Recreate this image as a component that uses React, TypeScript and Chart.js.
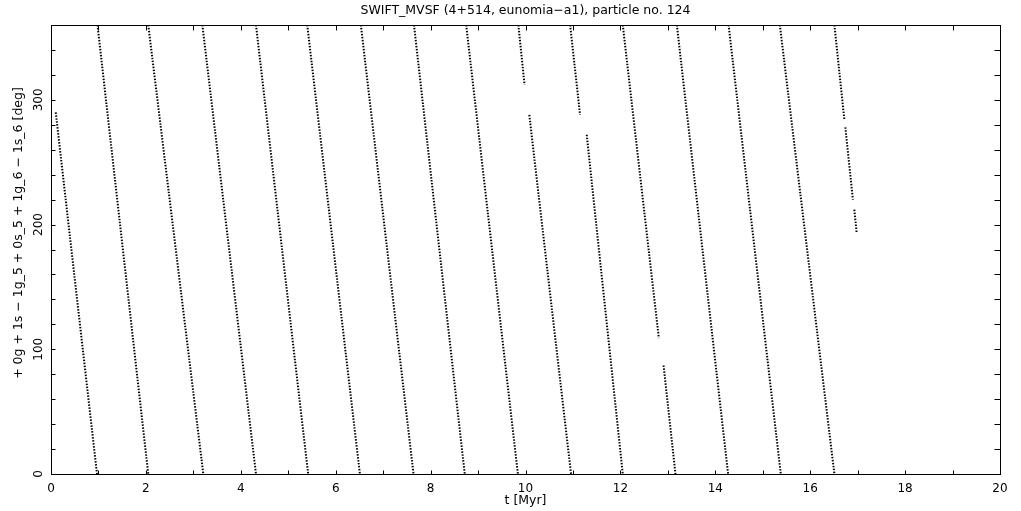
import React, { useEffect, useRef } from "react";
import { Chart, registerables } from "chart.js";

Chart.register(...registerables);

const FONT = "'DejaVu Sans', sans-serif";

const titleText = "SWIFT_MVSF (4+514, eunomia\u2212a1), particle no. 124";
const xTitleText = "t [Myr]";
const yTitleText = "+ 0g + 1s \u2212 1g_5 + 0s_5 + 1g_6 \u2212 1s_6 [deg]";

// Tick values
const xTickValues = [0, 2, 4, 6, 8, 10, 12, 14, 16, 18, 20];
const yTickValues = [0, 100, 200, 300];
const xMinorTicks = [1, 2, 3, 4, 5, 6, 7, 8, 9, 10, 11, 12, 13, 14, 15, 16, 17, 18, 19];
const yMinorTicks = [20, 40, 60, 80, 100, 120, 140, 160, 180, 200, 220, 240, 260, 280, 300, 320, 340];

// Each piece of the wrapped angle track: start (t, deg) -> end (t, deg)
const pieceStartT = [0.10, 0.98, 2.05, 3.19, 4.32, 5.40, 6.53, 7.65, 8.75, 9.85, 10.08, 10.94, 11.29, 12.05, 12.91, 13.19, 14.28, 15.36, 16.51, 16.74, 16.93];
const pieceStartDeg = [290, 360, 360, 360, 360, 360, 360, 360, 360, 360, 288, 360, 272, 360, 87, 360, 360, 360, 360, 278, 212];
const pieceEndT = [0.97, 2.05, 3.21, 4.32, 5.42, 6.51, 7.64, 8.72, 9.84, 9.98, 10.96, 11.15, 12.05, 12.81, 13.16, 14.27, 15.38, 16.51, 16.72, 16.90, 16.98];
const pieceEndDeg = [0, 0, 0, 0, 0, 0, 0, 0, 0, 312, 0, 288, 0, 109, 0, 0, 0, 0, 284, 220, 193];

const framePlugin = {
  id: "frameTicks",
  afterDraw(chart: any) {
    const { ctx, chartArea: a, scales } = chart;
    const L = Math.round(a.left) + 0.5;
    const R = Math.round(a.right) + 0.5;
    const T = Math.round(a.top) + 0.5;
    const B = Math.round(a.bottom) + 0.5;
    ctx.save();
    ctx.strokeStyle = "#000";
    ctx.lineWidth = 1;
    ctx.setLineDash([]);
    ctx.strokeRect(L, T, R - L, B - T);
    ctx.beginPath();
    for (const v of xMinorTicks) {
      const px = Math.round(scales.x.getPixelForValue(v)) + 0.5;
      ctx.moveTo(px, B);
      ctx.lineTo(px, B - 4);
      ctx.moveTo(px, T);
      ctx.lineTo(px, T + 5);
    }
    for (const v of yMinorTicks) {
      const py = Math.round(scales.y.getPixelForValue(v)) + 0.5;
      ctx.moveTo(L, py);
      ctx.lineTo(L + 4, py);
      ctx.moveTo(R, py);
      ctx.lineTo(R - 6, py);
    }
    ctx.stroke();
    ctx.fillStyle = "#000";
    ctx.textAlign = "center";
    ctx.textBaseline = "middle";
    // y tick labels (rotated)
    ctx.font = `12px ${FONT}`;
    for (const v of yTickValues) {
      const py = scales.y.getPixelForValue(v);
      ctx.save();
      ctx.translate(39, py);
      ctx.rotate(-Math.PI / 2);
      ctx.fillText(String(v), 0, 0);
      ctx.restore();
    }
    // y axis title (rotated)
    ctx.font = `12.5px ${FONT}`;
    ctx.save();
    ctx.translate(18.5, 233);
    ctx.rotate(-Math.PI / 2);
    ctx.fillText(yTitleText, 0, 0);
    ctx.restore();
    // chart title
    ctx.fillText(titleText, (a.left + a.right) / 2, 11);
    ctx.restore();
  },
};

export default function App() {
  const ref = useRef<HTMLCanvasElement>(null);

  useEffect(() => {
    if (!ref.current) return;
    const datasets = pieceStartT.map((t0, i) => ({
      label: `piece ${i + 1}`,
      data: [
        { x: t0, y: pieceStartDeg[i] },
        { x: pieceEndT[i], y: pieceEndDeg[i] },
      ],
      showLine: true,
      borderColor: "#000",
      borderWidth: 2,
      borderDash: [1.5, 1.5],
      pointRadius: 0,
      fill: false,
    }));

    const chart = new Chart(ref.current, {
      type: "scatter",
      data: { datasets },
      options: {
        animation: false,
        responsive: true,
        maintainAspectRatio: false,
        layout: { padding: { left: 0, right: 21, top: 25, bottom: 0 } },
        plugins: {
          legend: { display: false },
          tooltip: { enabled: false },
          title: { display: false },
        },
        scales: {
          x: {
            type: "linear",
            min: 0,
            max: 20,
            grid: { display: false, drawTicks: false },
            border: { display: false },
            afterBuildTicks: (s: any) => {
              s.ticks = xTickValues.map((v) => ({ value: v }));
            },
            afterFit: (s: any) => {
              s.height = 37;
            },
            ticks: {
              color: "#000",
              font: { family: FONT, size: 12 },
              padding: 8,
              maxRotation: 0,
              autoSkip: false,
            },
            title: {
              display: true,
              text: xTitleText,
              color: "#000",
              font: { family: FONT, size: 12.5 },
              padding: { top: 0, bottom: 2.6 },
            },
          },
          y: {
            type: "linear",
            min: 0,
            max: 360,
            grid: { display: false, drawTicks: false },
            border: { display: false },
            ticks: { display: false },
            afterFit: (s: any) => {
              s.width = 51;
            },
            title: { display: false },
          },
        },
      },
      plugins: [framePlugin],
    });
    return () => chart.destroy();
  }, []);

  return (
    <div style={{ position: "absolute", left: 0, top: 0, width: 1021, height: 511, background: "#fff" }}>
      <canvas ref={ref} />
    </div>
  );
}
